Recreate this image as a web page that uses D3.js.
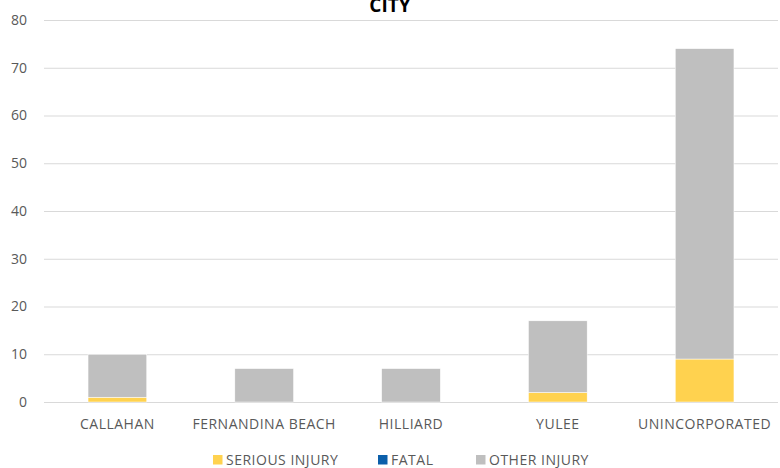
<!DOCTYPE html>
<html><head><meta charset="utf-8">
<script src="https://cdn.jsdelivr.net/npm/d3@7"></script>
<style>body{margin:0;background:#fff}svg text{font-family:"Open Sans",Calibri,sans-serif}</style>
</head><body><svg id="c" width="780" height="468"></svg>
<script>
const categories = ["CALLAHAN","FERNANDINA BEACH","HILLIARD","YULEE","UNINCORPORATED"];
const serious = [1,0,0,2,9];
const fatal = [0,0,0,0,0];
const other = [9,7,7,15,65];
const seriesNames = ["SERIOUS INJURY","FATAL","OTHER INJURY"];
const colors = ["#FFD24F","#0B5FAA","#BFBFBF"];
const yTicks = [0,10,20,30,40,50,60,70,80];

const svg = d3.select("#c");
const m = {l:44, r:2, t:20, b:66};
const W = 780, H = 468;
const x = d3.scaleBand().domain(categories).range([m.l, W-m.r]).paddingInner(0.6).paddingOuter(0.3);
const y = d3.scaleLinear().domain([0,80]).range([H-m.b, m.t]);

const table = categories.map((c,i)=>({cat:c,"SERIOUS INJURY":serious[i],"FATAL":fatal[i],"OTHER INJURY":other[i]}));
const stack = d3.stack().keys(seriesNames)(table);

// grid
const ga = svg.append("g").attr("transform",`translate(${m.l},0)`)
  .call(d3.axisLeft(y).tickValues(yTicks).tickSize(-(W-m.l-m.r)).tickPadding(8));
ga.select(".domain").remove();
ga.selectAll(".tick line").attr("stroke","#D9D9D9").attr("stroke-width",1);
ga.selectAll(".tick text").attr("fill","#595959").style("font-size","14px").attr("x",-17);

// bars
svg.append("g").selectAll("g").data(stack).join("g").attr("fill",(d,i)=>colors[i])
  .selectAll("rect").data(d=>d).join("rect")
  .attr("x",d=>x(d.data.cat)).attr("width",x.bandwidth())
  .attr("y",d=>y(d[1])).attr("height",d=>y(d[0])-y(d[1]))
  .attr("stroke","#fff").attr("stroke-width",0.5);

// x labels
const xa = svg.append("g").attr("transform",`translate(0,${H-m.b})`).call(d3.axisBottom(x).tickSize(0).tickPadding(0));
xa.select(".domain").remove();
xa.selectAll("text").attr("fill","#595959").style("font-size","14px").style("letter-spacing","0.5px")
  .attr("dy",null).attr("y",27);

// title
svg.append("text").attr("x",390).attr("y",12).attr("text-anchor","middle")
  .style("font-size","19px").style("font-weight","bold").attr("fill","#000").text("CITY");

// legend
const lx = [213,378,476];
const lg = svg.append("g").selectAll("g").data(seriesNames).join("g")
  .attr("transform",(d,i)=>`translate(${lx[i]},455)`);
lg.append("rect").attr("width",9.5).attr("height",9.5).attr("fill",(d,i)=>colors[i]);
lg.append("text").attr("x",13).attr("y",9.5).attr("fill","#595959").style("font-size","14px")
  .style("letter-spacing","0.5px").text(d=>d);
</script></body></html>
